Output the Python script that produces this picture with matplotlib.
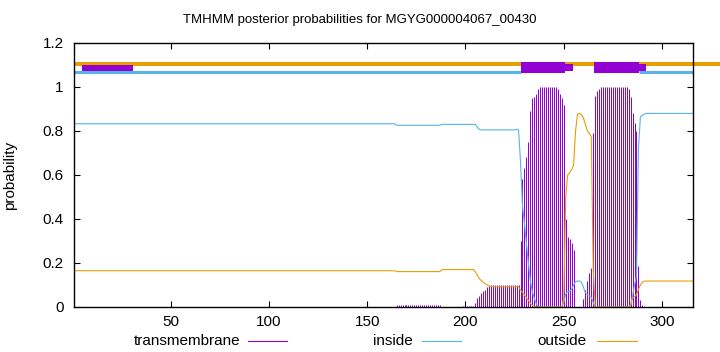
import numpy as np
import matplotlib
matplotlib.use("Agg")
import matplotlib.pyplot as plt
from matplotlib.patches import Rectangle
from matplotlib.lines import Line2D

plt.rcParams['font.family'] = ['Liberation Sans', 'DejaVu Sans']

TITLE = "TMHMM posterior probabilities for MGYG000004067_00430"
SEQ_LEN = 316

# ---- per-residue posterior values ----
# inside probability
inside = ([0.833] * 164 + [0.826] * 23 + [0.830] * 18 +          # 1-205
          [0.818, 0.808] + [0.805] * 18 + [0.808, 0.805] +         # 206-227
          [0.66, 0.46, 0.38, 0.29, 0.20, 0.12, 0.07, 0.04, 0.015] +  # 228-236
          [0.0] * 13 +                                              # 237-249
          [0.02, 0.06, 0.07, 0.07, 0.08, 0.10, 0.115, 0.118, 0.118,
           0.112, 0.09, 0.065, 0.055, 0.05, 0.045, 0.02] +          # 250-265
          [0.0] * 18 +                                              # 266-283
          [0.01, 0.05, 0.10, 0.14, 0.72, 0.865, 0.872, 0.877] +     # 284-291
          [0.88] * 25)                                              # 292-316

# outside probability
outside = ([0.165] * 164 + [0.161] * 23 + [0.170] * 17 +          # 1-204
           [0.16, 0.145, 0.13, 0.12, 0.113, 0.106, 0.10, 0.096, 0.093] +  # 205-213
           [0.092] * 14 +                                           # 214-227
           [0.077, 0.066, 0.055, 0.042, 0.03, 0.018, 0.008, 0.002] +  # 228-235
           [0.0] * 14 +                                             # 236-249
           [0.04, 0.50, 0.60, 0.61, 0.625, 0.645, 0.80, 0.876, 0.88,
            0.875, 0.86, 0.83, 0.80, 0.79, 0.775, 0.17] +           # 250-265
           [0.0] * 18 +                                             # 266-283
           [0.005, 0.04, 0.047, 0.055, 0.08, 0.10, 0.113, 0.117] +  # 284-291
           [0.118] * 25)                                            # 292-316

# transmembrane probability
transmembrane = ([0.0] * 164 + [0.009] * 23 + [0.0] * 11 +        # 1-198
                 [0.004] * 6 + [0.02, 0.04, 0.05, 0.065, 0.073, 0.077,
                                0.09, 0.095] +                      # 199-212
                 [0.10] * 15 +                                      # 213-227
                 [0.30, 0.58, 0.63, 0.68, 0.75, 0.89, 0.95, 0.955, 0.97,
                  0.99] +                                           # 228-237
                 [1.0] * 9 +                                        # 238-246
                 [0.99, 0.97, 0.95, 0.92, 0.40, 0.32, 0.31, 0.29, 0.26] +  # 247-255
                 [0.0] * 4 +                                        # 256-259
                 [0.036, 0.077, 0.12, 0.156, 0.176, 0.79, 0.96, 0.98,
                  0.99] +                                           # 260-268
                 [1.0] * 13 +                                       # 269-281
                 [1.0, 0.99, 0.956, 0.88, 0.835, 0.80, 0.186, 0.03, 0.01,
                  0.005] +                                          # 282-291
                 [0.0] * 25)                                        # 292-316

# predicted topology strip (start, end) in residue coordinates
tm_helices = [(228.5, 250.6, 254.8), (265.3, 288.4, 291.6)]
signal_box = (5.0, 30.8)
inside_segments = [(0.6, 228.5), (288.4, 315.6)]

residues = np.arange(1, SEQ_LEN + 1)

C_TM = '#9400D3'
C_IN = '#56B4E9'
C_OUT = '#E69F00'
FS = 11

fig = plt.figure(figsize=(7.2, 3.52), dpi=100)
ax = fig.add_axes([73.5 / 720, 1 - 307 / 352, (692.7 - 73.5) / 720, (307 - 43) / 352])

ax.vlines(residues, 0, transmembrane, color=C_TM, lw=0.72, zorder=2)
ax.plot(residues, inside, color=C_IN, lw=0.8, zorder=3)
ax.plot(residues, outside, color=C_OUT, lw=0.8, zorder=3)

# topology strip
ax.plot([0.6, 330], [1.105, 1.105], color=C_OUT, lw=2.9, solid_capstyle='butt',
        clip_on=False, zorder=4)
for s, e in inside_segments:
    ax.plot([s, e], [1.067, 1.067], color=C_IN, lw=2.2, solid_capstyle='butt',
            zorder=4)
ax.add_patch(Rectangle((signal_box[0], 1.072), signal_box[1] - signal_box[0], 0.027,
                       facecolor=C_TM, edgecolor='none', zorder=6))
for s, m, e in tm_helices:
    ax.add_patch(Rectangle((s, 1.062), m - s, 0.050, facecolor=C_TM,
                           edgecolor='none', zorder=6))
    ax.add_patch(Rectangle((m, 1.073), e - m, 0.030, facecolor=C_TM,
                           edgecolor='none', zorder=5))

ax.set_xlim(0.6, 315.6)
ax.set_ylim(0, 1.2)
ax.set_xticks([50, 100, 150, 200, 250, 300])
ax.set_yticks([0, 0.2, 0.4, 0.6, 0.8, 1.0, 1.2])
ax.set_yticklabels(['0', '0.2', '0.4', '0.6', '0.8', '1', '1.2'])
ax.tick_params(direction='in', length=4, width=0.8, top=True, right=True,
               labelsize=FS, colors='black')
ax.tick_params(axis='y', pad=7)
ax.tick_params(axis='x', pad=6)
for sp in ax.spines.values():
    sp.set_linewidth(1.0)
    sp.set_zorder(7)

ax.set_ylabel('probability', fontsize=FS)
ax.yaxis.set_label_coords(-(73.5 - 17) / 619.2, 0.5)

fig.text(0.5, 1 - 20 / 352, TITLE, ha='center', va='center', fontsize=9.5)

# legend
ly = 1 - 341 / 352
for label, color, tx, lx0, lx1 in [('transmembrane', C_TM, 240, 248, 287),
                                   ('inside', C_IN, 413, 422, 461),
                                   ('outside', C_OUT, 587, 597, 637)]:
    fig.text(tx / 720, ly, label, ha='right', va='center', fontsize=FS)
    fig.add_artist(Line2D([lx0 / 720, lx1 / 720], [ly, ly], color=color, lw=0.8))

fig.savefig('out.png', dpi=100)
